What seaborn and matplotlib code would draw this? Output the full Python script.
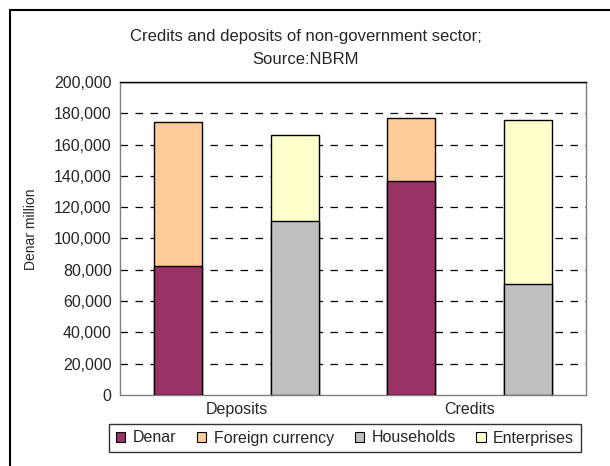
import matplotlib
matplotlib.use("Agg")
import matplotlib.pyplot as plt
import seaborn as sns
import pandas as pd
from matplotlib.patches import Rectangle, Patch
from matplotlib.ticker import FuncFormatter

categories = ["Deposits", "Credits"]
denar = [82600, 137000]
foreign_currency = [92000, 40000]
households = [111200, 71000]
enterprises = [55000, 105000]
series_names = ["Denar", "Foreign currency", "Households", "Enterprises"]
colors = ["#993366", "#FFCC99", "#C0C0C0", "#FFFFCC"]

sns.set_theme(style="white")
plt.rcParams["font.family"] = ["Liberation Sans", "DejaVu Sans"]

fig = plt.figure(figsize=(6.10, 4.66), dpi=100)
ax = fig.add_axes([120/610, 1-395/466, 466/610, 313/466])

cat_pos = list(range(len(categories)))
pos_a = [p - 0.25 for p in cat_pos]
pos_b = [p + 0.25 for p in cat_pos]

df_a = pd.DataFrame({"x": pos_a,
                     "total": [d + f for d, f in zip(denar, foreign_currency)],
                     "bottom": denar})
df_b = pd.DataFrame({"x": pos_b,
                     "total": [h + e for h, e in zip(households, enterprises)],
                     "bottom": households})

w = 0.206
kw = dict(native_scale=True, width=w, edgecolor="black", linewidth=1.0,
          errorbar=None, ax=ax, zorder=3)
sns.barplot(data=df_a, x="x", y="total", color=colors[1], saturation=1, **kw)
sns.barplot(data=df_a, x="x", y="bottom", color=colors[0], saturation=1, **kw)
sns.barplot(data=df_b, x="x", y="total", color=colors[3], saturation=1, **kw)
sns.barplot(data=df_b, x="x", y="bottom", color=colors[2], saturation=1, **kw)

ax.set_xlim(-0.5, 1.5)
ax.set_ylim(0, 200000)
yt = list(range(0, 200001, 20000))
ax.set_yticks(yt)
ax.yaxis.set_major_formatter(FuncFormatter(lambda v, p: f"{int(v):,}"))
for v in yt[1:-1]:
    ax.axhline(v, color="black", linestyle=(0, (6, 6)), linewidth=0.9, zorder=1)
ax.axhline(200000, color="black", linewidth=1.0, zorder=1)

ax.set_xticks(cat_pos)
ax.set_xticklabels(categories)
ax.tick_params(axis="both", labelsize=11.5, length=0)
ax.tick_params(axis="y", pad=6)
ax.tick_params(axis="x", pad=5)
ax.set_xlabel("")
ax.set_ylabel("Denar million", fontsize=10)
ax.yaxis.set_label_coords(-0.175, 0.53)
for s in ax.spines.values():
    s.set_color("#808080")
    s.set_linewidth(1.0)
ax.spines["top"].set_color("black")

fig.text(306/610, 1-37/466, "Credits and deposits of non-government sector;",
         ha="center", va="center", fontsize=12)
fig.text(306/610, 1-60/466, "Source:NBRM", ha="center", va="center", fontsize=12)

handles = [Patch(facecolor=c, edgecolor="black", linewidth=0.8) for c in colors]
leg = fig.legend(handles, series_names, loc="center",
                 bbox_to_anchor=(345/610, 1-438/466), ncol=4, frameon=True,
                 fontsize=11.5, handlelength=0.6, handleheight=0.6,
                 handletextpad=0.45, columnspacing=1.3, borderpad=0.4,
                 fancybox=False)
leg.get_frame().set_edgecolor("black")
leg.get_frame().set_linewidth(1.0)

fig.add_artist(Rectangle((10/610, -0.5), 2.0, 1 - 10/466 + 0.5,
                         transform=fig.transFigure, fill=False,
                         edgecolor="black", linewidth=1.5, clip_on=False))

fig.savefig("out.png", dpi=100)
